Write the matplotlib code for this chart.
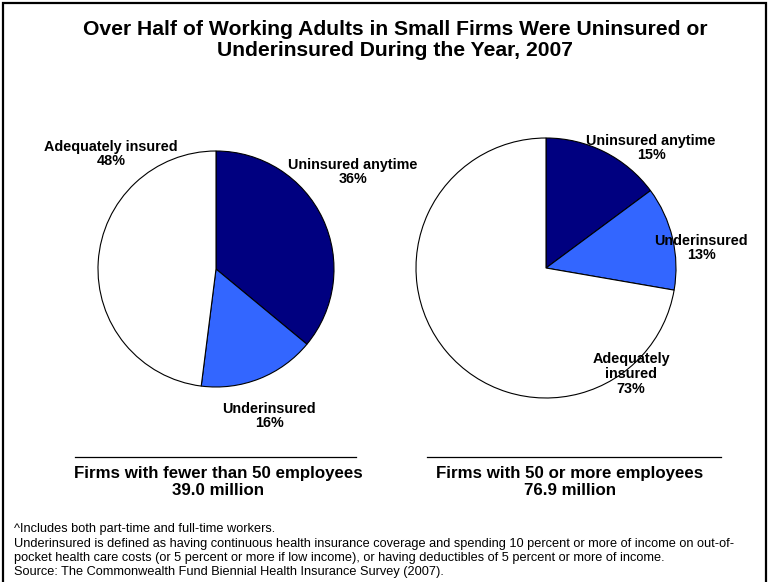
import matplotlib
matplotlib.use("Agg")
import matplotlib.pyplot as plt
from matplotlib.patches import Rectangle
from matplotlib.lines import Line2D

plt.rcParams['font.family'] = ['Liberation Sans', 'DejaVu Sans']

# Data
categories = ["Uninsured anytime", "Underinsured", "Adequately insured"]
small_values = [36, 16, 48]
large_values = [15, 13, 73]
colors = ["#000080", "#3366FF", "#FFFFFF"]
small_caption = "Firms with fewer than 50 employees\n39.0 million"
large_caption = "Firms with 50 or more employees\n76.9 million"
title = "Over Half of Working Adults in Small Firms Were Uninsured or\nUnderinsured During the Year, 2007"
footnotes = [
    "^Includes both part-time and full-time workers.",
    "Underinsured is defined as having continuous health insurance coverage and spending 10 percent or more of income on out-of-",
    "pocket health care costs (or 5 percent or more if low income), or having deductibles of 5 percent or more of income.",
    "Source: The Commonwealth Fund Biennial Health Insurance Survey (2007).",
]

W, H = 769, 582
fig = plt.figure(figsize=(W / 100, H / 100), dpi=100)

def px(x, y):
    return x / W, 1 - y / H

# Border
fig.add_artist(Rectangle((3 / W, -0.02), (W - 6) / W, 1.02 - 3 / H, transform=fig.transFigure,
                         fill=False, edgecolor="black", linewidth=1.6))

fig.text(*px(395, 40), title, ha="center", va="center", fontsize=15.2, fontweight="bold",
         linespacing=1.12)

def add_pie(cx, cy, r, values):
    ax = fig.add_axes([(cx - r) / W, 1 - (cy + r) / H, 2 * r / W, 2 * r / H])
    ax.pie(values, colors=colors, startangle=90, counterclock=False,
           wedgeprops=dict(edgecolor="black", linewidth=0.8))
    ax.set_xlim(-1.0, 1.0)
    ax.set_ylim(-1.0, 1.0)
    ax.set_aspect("equal")
    ax.axis("off")
    return ax

add_pie(216, 269, 118, small_values)
add_pie(546, 268, 130, large_values)

lab = dict(ha="center", va="center", fontsize=10.4, fontweight="bold", linespacing=1.05)
fig.text(*px(111, 154), f"Adequately insured\n{small_values[2]}%", **lab)
fig.text(*px(353, 172), f"Uninsured anytime\n{small_values[0]}%", **lab)
fig.text(*px(269, 416), f"Underinsured\n{small_values[1]}%", **lab)
fig.text(*px(651, 148), f"Uninsured anytime\n{large_values[0]}%", **lab)
fig.text(*px(701, 248), f"Underinsured\n{large_values[1]}%", **lab)
fig.text(*px(631, 374), f"Adequately\ninsured\n{large_values[2]}%", **lab)

# Caption rules
fig.add_artist(Line2D([75 / W, 356 / W], [1 - 457 / H] * 2, color="black", linewidth=0.9))
fig.add_artist(Line2D([427 / W, 721 / W], [1 - 457 / H] * 2, color="black", linewidth=0.9))

cap = dict(ha="center", va="center", fontsize=12.2, fontweight="bold", linespacing=1.1)
fig.text(*px(218, 482), small_caption, **cap)
fig.text(*px(570, 482), large_caption, **cap)

for i, line in enumerate(footnotes):
    fig.text(14 / W, 1 - (529 + i * 14.5) / H, line, ha="left", va="center", fontsize=9.2)

fig.savefig("out.png", dpi=100)
